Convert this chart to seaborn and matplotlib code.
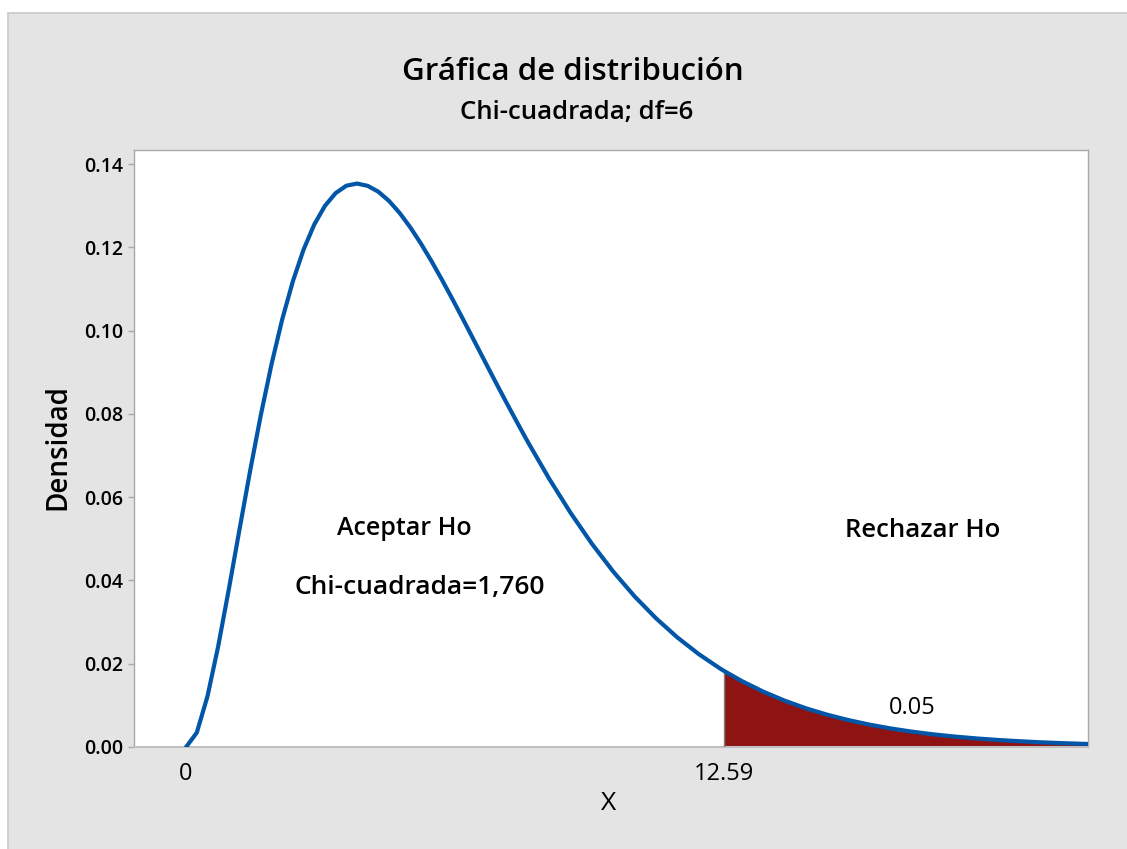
import numpy as np
import pandas as pd
import matplotlib
matplotlib.use("Agg")
import matplotlib.pyplot as plt
from matplotlib.patches import Rectangle
import seaborn as sns

# curve values (chi-square density, df=6)
x_vals = [0.0, 0.25, 0.5, 0.75, 1.0, 1.25, 1.5, 1.75, 2.0, 2.25, 2.5, 2.75,
          3.0, 3.25, 3.5, 3.75, 4.0, 4.25, 4.5, 4.75, 5.0, 5.25, 5.5, 5.75,
          6.0, 6.25, 6.5, 6.75, 7.0, 7.25, 7.5, 7.75, 8.0, 8.5, 9.0, 9.5,
          10.0, 10.5, 11.0, 11.5, 12.0, 12.5, 12.59, 13.0, 13.5, 14.0, 14.5,
          15.0, 15.5, 16.0, 16.5, 17.0, 17.5, 18.0, 18.5, 19.0, 19.5, 20.0,
          20.5, 21.0, 21.1]
dens_vals = [0.0, 0.00345, 0.01217, 0.02416, 0.03791, 0.05228, 0.06643,
             0.07980, 0.09197, 0.10274, 0.11191, 0.11949, 0.12551, 0.12999,
             0.13304, 0.13482, 0.13534, 0.13479, 0.13338, 0.13116, 0.12826,
             0.12479, 0.12086, 0.11659, 0.11202, 0.10728, 0.10239, 0.09745,
             0.09248, 0.08755, 0.08269, 0.07793, 0.07326, 0.06441, 0.05624,
             0.04880, 0.04211, 0.03616, 0.03091, 0.02631, 0.02231, 0.01885,
             0.01828, 0.01588, 0.01334, 0.01117, 0.00933, 0.00778, 0.00647,
             0.00537, 0.00444, 0.00367, 0.00303, 0.00250, 0.00206, 0.00169,
             0.00139, 0.00113, 0.00093, 0.00076, 0.00073]
critical = 12.59
alpha_label = "0.05"
y_ticks = [0.00, 0.02, 0.04, 0.06, 0.08, 0.10, 0.12, 0.14]
x_ticks = [0, critical]
x_ticklabels = ["0", "12.59"]

df = pd.DataFrame({"x": x_vals, "dens": dens_vals})
tail = df[df["x"] >= critical]

sns.set_style("white")
plt.rcParams["font.family"] = ["Open Sans", "DejaVu Sans"]
plt.rcParams["text.color"] = "black"
plt.rcParams["xtick.color"] = "black"
plt.rcParams["ytick.color"] = "black"

BG = "#e4e4e4"
BLUE = "#0256a8"
RED = "#8e1414"
FRAME = "#a8a8a8"

fig = plt.figure(figsize=(11.27, 8.49), dpi=100, facecolor="white")
fig.patches.append(Rectangle((8 / 1127, -0.1), 1.2, 1 - 13 / 849 + 0.1,
                             transform=fig.transFigure, facecolor=BG,
                             edgecolor="#cacaca", lw=1.2, zorder=-10))

ax = fig.add_axes([134 / 1127, 1 - 747 / 849, (1087.5 - 134) / 1127, (747 - 150) / 849])
ax.set_zorder(5)
ax.set_facecolor("white")

ax.fill_between(tail["x"], 0, tail["dens"], color=RED, lw=0, zorder=2)
ax.vlines(critical, 0, tail["dens"].iloc[0], color="#808080", lw=1, zorder=3)
sns.lineplot(data=df, x="x", y="dens", color=BLUE, lw=3, ax=ax, zorder=4)

ax.set_xlim(-1.22, 21.1)
ax.set_ylim(0, 0.1434)
ax.set_yticks(y_ticks)
ax.set_yticklabels([f"{t:.2f}" for t in y_ticks], fontsize=14, fontweight="semibold")
ax.set_xticks(x_ticks)
ax.set_xticklabels(x_ticklabels, fontsize=17)
ax.tick_params(axis="y", length=4, width=1, color=FRAME, pad=4, left=True, labelcolor="black")
ax.tick_params(axis="x", length=0, pad=11, labelcolor="black")
ax.set_xlabel("")
ax.set_ylabel("")
for s in ax.spines.values():
    s.set_color(FRAME)
    s.set_linewidth(1)
ax.spines["bottom"].set_color("#c0c0c0")
ax.spines["bottom"].set_linewidth(1.5)

ax.text(5.10, 0.0526, "Aceptar Ho", fontsize=18, fontweight="semibold",
        ha="center", va="center")
ax.text(5.48, 0.0382, "Chi-cuadrada=1,760", fontsize=19, fontweight="semibold",
        ha="center", va="center")
ax.text(17.25, 0.0521, "Rechazar Ho", fontsize=18.5, fontweight="semibold",
        ha="center", va="center")
ax.text(16.99, 0.0094, alpha_label, fontsize=17, ha="center", va="center")

fig.text(0.508, 0.915, "Gráfica de distribución", fontsize=22.5,
         fontweight="semibold", ha="center", va="center")
fig.text(0.512, 0.867, "Chi-cuadrada; df=6", fontsize=18.5,
         fontweight="semibold", ha="center", va="center")
fig.text(0.0515, 0.473, "Densidad", fontsize=20, fontweight="semibold",
         rotation=90, ha="center", va="center")
fig.text(0.540, 0.054, "X", fontsize=19, ha="center", va="center")

fig.savefig("out.png", dpi=100, facecolor=fig.get_facecolor())
